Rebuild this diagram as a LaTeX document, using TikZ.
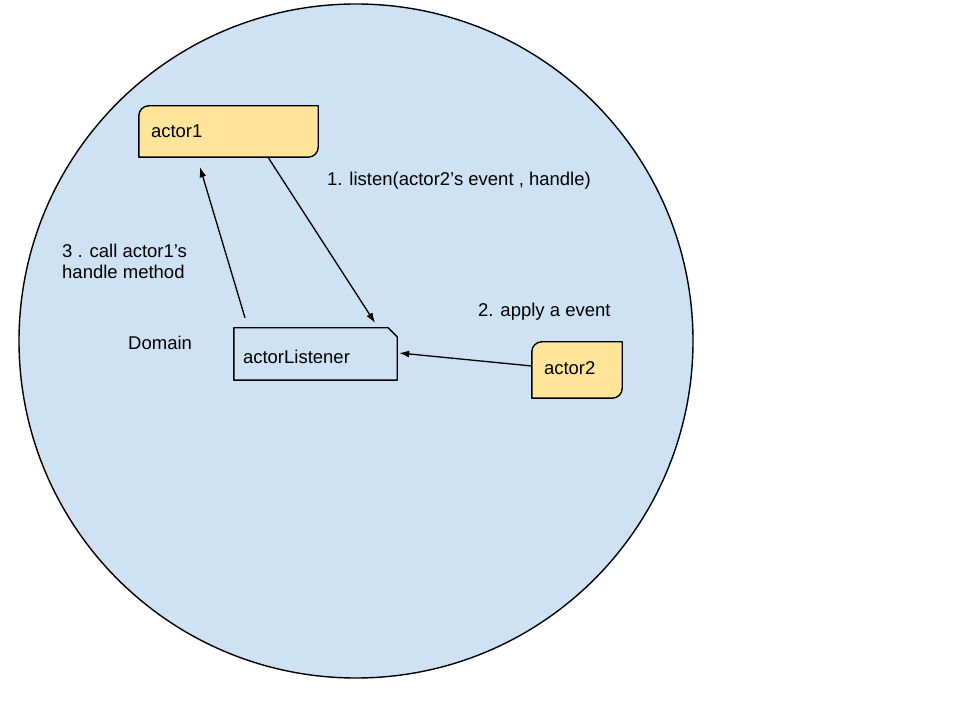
\documentclass[tikz,border=0pt]{standalone}
\usepackage{fontspec}
\setmainfont{Liberation Sans}
\usetikzlibrary{arrows.meta,backgrounds}
\definecolor{domainblue}{HTML}{CFE2F3}
\definecolor{actoryellow}{HTML}{FFE599}
\begin{document}
\begin{tikzpicture}[x=1pt,y=1pt,
  every node/.style={font=\fontsize{18.5}{21.5}\selectfont, text=black},
  boxnode/.style={draw=none, inner ysep=0pt, align=left, anchor=center},
  outline/.style={draw=black, line width=1.4pt, line join=round},
  lbl/.style={inner sep=0pt, anchor=west, align=left},
  conn/.style={draw=black, line width=1.3pt, -{Latex[length=10pt,width=7pt]}}
]
\useasboundingbox (0,0) rectangle (960,720);

% boxes (text nodes)
\node[boxnode, inner xsep=12pt, text width=155pt, minimum height=51pt] (a1) at (228.5,588.5) {actor1};
\node[boxnode, inner xsep=9pt, text width=145pt, minimum height=52pt, text height=19pt, text depth=0pt] (al) at (315.5,366) {actorListener};
\node[boxnode, inner xsep=12pt, text width=66pt, minimum height=56pt, text height=13pt, text depth=4pt] (a2) at (577,350) {actor2};

% labels
\node[lbl] (l1) at (327,539) {1. listen(actor2’s event , handle)};
\node[lbl] (l3) at (62,458.5) {3 . call actor1’s\\handle method};
\node[lbl] (ldom) at (128,377) {Domain};
\node[lbl] (l2) at (478,408) {2. apply a event};

\begin{scope}[on background layer]
% domain circle
\draw[line width=1.4pt, fill=domainblue] (356,379) circle[radius=337pt];
% actor1 outline
\draw[outline, fill=actoryellow] ([yshift=-10pt]a1.north west) arc[start angle=180,end angle=90,radius=10pt] -- (a1.north east) -- ([yshift=10pt]a1.south east) arc[start angle=0,end angle=-90,radius=10pt] -- (a1.south west) -- cycle;
% actorListener outline
\draw[outline] (al.north west) -- ([xshift=-9pt]al.north east) -- ([yshift=-9pt]al.north east) -- (al.south east) -- (al.south west) -- cycle;
% actor2 outline
\draw[outline, fill=actoryellow] ([yshift=-10pt]a2.north west) arc[start angle=180,end angle=90,radius=10pt] -- (a2.north east) -- ([yshift=10pt]a2.south east) arc[start angle=0,end angle=-90,radius=10pt] -- (a2.south west) -- cycle;
\end{scope}

% connectors
\draw[conn] ([xshift=39.5pt]a1.south) -- ([xshift=59.5pt,yshift=5pt]al.north);
\draw[conn] ([xshift=-70.5pt,yshift=10pt]al.north) -- ([xshift=-28.5pt,yshift=-10pt]a1.south);
\draw[conn] ([yshift=4pt]a2.west) -- ([xshift=2pt,yshift=1pt]al.east);
\end{tikzpicture}
\end{document}
